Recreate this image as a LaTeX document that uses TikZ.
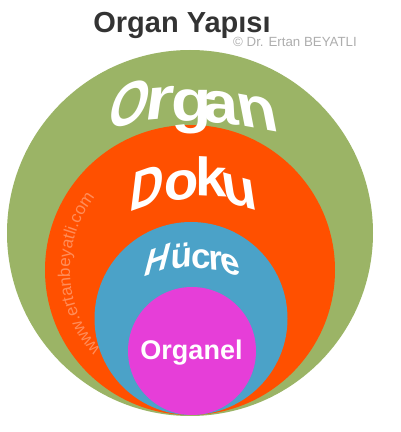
\documentclass[tikz,border=0pt]{standalone}
\usepackage{fontspec}
\setmainfont{Liberation Sans}
\usetikzlibrary{decorations.text}

\definecolor{organgreen}{HTML}{9BB466}
\definecolor{dokuorange}{HTML}{FF5000}
\definecolor{hucreblue}{HTML}{4BA2C8}
\definecolor{organelpink}{HTML}{E63ED8}
\definecolor{urlorange}{HTML}{FF8D59}
\definecolor{titlegray}{HTML}{333333}

\begin{document}
\begin{tikzpicture}[
    x=1pt, y=1pt,
    letter/.style={text=white, inner sep=0pt, anchor=base,
        font=\bfseries\fontsize{#1}{#1}\selectfont}
]

    \useasboundingbox (0,0) rectangle (400,432);

    % Centres of the circles
    \coordinate (G) at (190,199);    % organ
    \coordinate (D) at (190,162);    % doku
    \coordinate (H) at (191,113.5);  % hucre
    \coordinate (E) at (192,81);     % organel

    % Circles, outer to inner
    \fill[organgreen]  (G) circle (183);
    \fill[dokuorange]  (D) circle (145);
    \fill[hucreblue]   (H) circle (96.5);
    \fill[organelpink] (E) circle (64);

    % Title
    \node[text=titlegray, font=\bfseries\fontsize{29}{29}\selectfont, anchor=base]
        (title) at (182,399) {Organ Yapısı};
    \node[text=black!32, font=\fontsize{13.3}{13.3}\selectfont, anchor=base]
        (copy) at (295,385) {© Dr. Ertan BEYATLI};

    % Organ (arched): letter/x/y/yslant/xslant/xscale
    \foreach \ch/\px/\py/\ys/\xs/\sx [count=\i] in {O/125/307/0.22/0.3/0.85, r/157/313/0.1/0.12/1.2,
        g/192/310/0/0/1.12, a/222/309/-0.12/-0.05/1.1, n/261/303/-0.2/-0.18/1.12}
        \node[letter=59, xscale=\sx, yslant=\ys, xslant=\xs] (organ-\i) at (\px,\py) {\ch};

    % Doku (arched)
    \foreach \ch/\px/\py/\ys/\xs/\sx [count=\i] in {D/145/225/0.3/0.15/0.85, o/181/232/0.1/0.05/1.05,
        k/211/236/-0.05/0/1.05, u/242/226/-0.3/-0.15/1.05}
        \node[letter=54, xscale=\sx, yslant=\ys, xslant=\xs] (doku-\i) at (\px,\py) {\ch};

    % Hucre (arched)
    \foreach \ch/\px/\py/\ys/\xs/\sx [count=\i] in {H/155/159/0.35/0.3/0.95, ü/181/164/0.15/0.05/1,
        c/201/163/0/0/1, r/216/162/-0.12/-0.05/1, e/232/158/-0.3/-0.2/1}
        \node[letter=35, xscale=\sx, yslant=\ys, xslant=\xs] (hucre-\i) at (\px,\py) {\ch};

    % Organel
    \node[letter=27] (organel) at (191.5,72) {Organel};

    % web address along the orange ring
    \path[decorate, decoration={text along path, text align=center,
        text color=urlorange,
        text={|\fontsize{17}{17}\selectfont|www.ertanbeyatli.com}}]
        (D) ++(228:120) arc[start angle=228, end angle=136, radius=120];

\end{tikzpicture}
\end{document}
